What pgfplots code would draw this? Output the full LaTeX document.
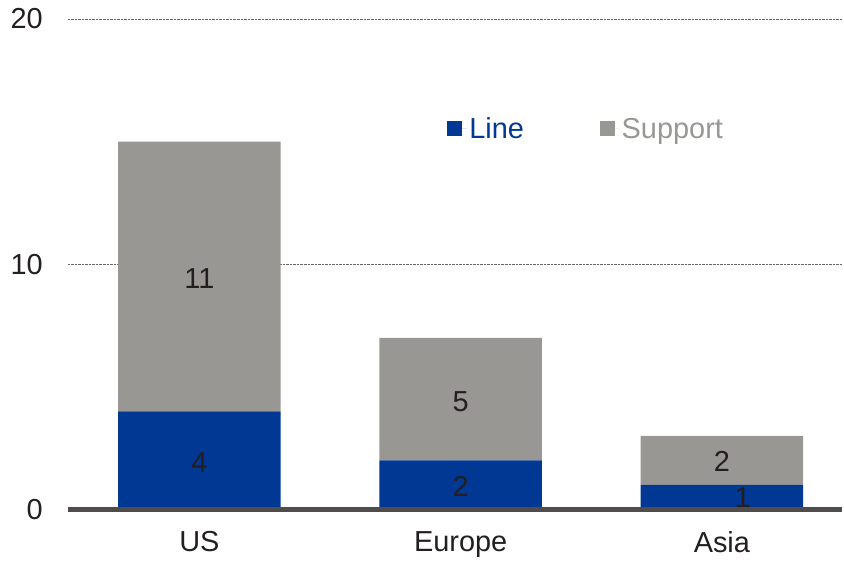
\documentclass[border=0pt]{standalone}
\usepackage{fontspec}
\setmainfont{Liberation Sans}
\usepackage{pgfplots}
\pgfplotsset{compat=1.18}
\definecolor{lineblue}{RGB}{0,56,147}
\definecolor{supgray}{RGB}{153,151,148}
\definecolor{txt}{RGB}{35,31,32}
\definecolor{base}{RGB}{80,76,75}
\begin{document}
\begin{tikzpicture}[font=\fontsize{29}{35}\selectfont]
\begin{axis}[
  scale only axis,
  width=776pt, height=492pt,
  ybar stacked, bar width=163pt,
  xmin=-0.504, xmax=2.458,
  ymin=0, ymax=20,
  xtick={0,1,2}, xticklabels={US,Europe,Asia},
  ytick={0,10,20},
  major tick length=0pt,
  axis line style={draw=none},
  /pgf/number format/assume math mode=true,
  tick label style={font=\fontsize{29}{35}\selectfont, text=txt},
  yticklabel style={inner sep=0pt, anchor=east, xshift=-25pt},
  xticklabel style={inner sep=0pt, anchor=north, yshift=-22pt},
  ymajorgrids,
  grid style={densely dotted, color=black!60, line width=0.8pt},
  clip=false,
  legend columns=2,
  legend style={draw=none, fill=none, at={(0.670,0.776)}, anchor=center,
    font=\fontsize{29}{35}\selectfont,
    /tikz/every even column/.append style={column sep=74pt},
    cells={anchor=west}},
  legend image code/.code={\fill[#1] (0pt,-7.5pt) rectangle (15pt,7.5pt); \path (0pt,0pt) -- (20pt,0pt);},
]
\addplot[fill=lineblue, draw=none] coordinates {(0,4) (1,2) (2,1)};
\addplot[fill=supgray, draw=none] coordinates {(0,11) (1,5) (2,2)};
\legend{\textcolor{lineblue}{Line}, \textcolor{supgray}{Support}}
\coordinate (b0) at (rel axis cs:0,0);
\coordinate (b1) at (rel axis cs:1,0);
\coordinate (n1) at (axis cs:0,1.9);
\coordinate (n2) at (axis cs:0,9.4);
\coordinate (n3) at (axis cs:1,0.95);
\coordinate (n4) at (axis cs:1,4.4);
\coordinate (n5) at (axis cs:2.08,0.5);
\coordinate (n6) at (axis cs:2,1.95);
\end{axis}
\draw[line width=5pt, color=base] (b0) -- (b1);
\node[text=txt] at (n1) {4};
\node[text=txt] at (n2) {11};
\node[text=txt] at (n3) {2};
\node[text=txt] at (n4) {5};
\node[text=txt] at (n5) {1};
\node[text=txt] at (n6) {2};
\path (current axis.south west) ++(-68pt,-51pt) coordinate (bl);
\path (current axis.north east) ++(0pt,19pt) coordinate (tr);
\path (bl) rectangle (tr);
\end{tikzpicture}
\end{document}
